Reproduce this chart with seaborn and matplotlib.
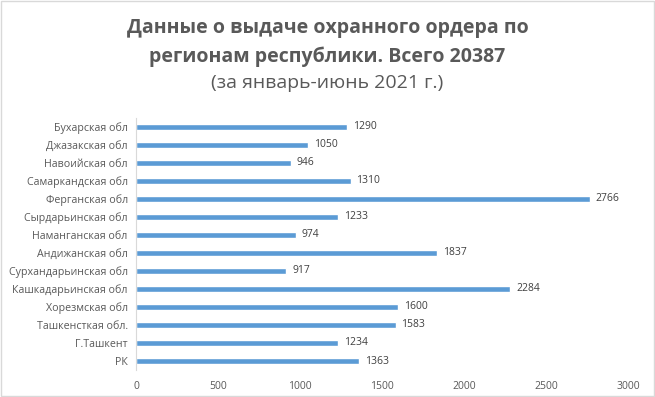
import matplotlib
matplotlib.use("Agg")
import matplotlib.pyplot as plt
import seaborn as sns
import pandas as pd

regions = [
    "Бухарская обл", "Джазакская обл", "Навоийская обл", "Самаркандская обл",
    "Ферганская обл", "Сырдарьинская обл", "Наманганская обл", "Андижанская обл",
    "Сурхандарьинская обл", "Кашкадарьинская обл", "Хорезмская обл",
    "Ташкенсткая обл.", "Г.Ташкент", "РК",
]
counts = [1290, 1050, 946, 1310, 2766, 1233, 974, 1837, 917, 2284, 1600, 1583, 1234, 1363]
xticks = [0, 500, 1000, 1500, 2000, 2500, 3000]

df = pd.DataFrame({"region": regions, "count": counts})

sns.set_style("white")
plt.rcParams["font.family"] = ["Open Sans", "DejaVu Sans"]
grey = "#595959"

fig = plt.figure(figsize=(6.55, 3.97), dpi=100)
ax = fig.add_axes([0.2076, 0.068, 0.751, 0.635])

sns.barplot(data=df, x="count", y="region", color="#5B9BD5", width=0.3,
            saturation=1, ax=ax)

# value labels to the right of each bar
for i, v in enumerate(counts):
    ax.text(v + 35, i, str(v), va="center", ha="left", fontsize=7.5, color="#404040")

ax.set_xlim(0, 3000)
ax.set_ylim(len(regions) - 0.5, -0.5)
ax.set_xticks(xticks)
ax.set_xticklabels([str(t) for t in xticks], fontsize=7.5, color=grey)
ax.tick_params(axis="y", labelsize=7.7, labelcolor=grey, length=0, pad=6)
ax.tick_params(axis="x", length=0, pad=8)
ax.set_xlabel("")
ax.set_ylabel("")
for s in ["top", "right", "bottom"]:
    ax.spines[s].set_visible(False)
ax.spines["left"].set_color("#D9D9D9")
ax.spines["left"].set_linewidth(0.8)

fig.text(0.5, 0.93, "Данные о выдаче охранного ордера по", ha="center", va="center",
         fontsize=14, fontweight="bold", color=grey)
fig.text(0.5, 0.857, "регионам республики. Всего 20387", ha="center", va="center",
         fontsize=14, fontweight="bold", color=grey)
fig.text(0.5, 0.79, "(за январь-июнь 2021 г.)", ha="center", va="center",
         fontsize=14, color=grey)

fig.patches.append(plt.Rectangle((0.002, 0.003), 0.996, 0.994, transform=fig.transFigure,
                                 fill=False, edgecolor="#D9D9D9", linewidth=1))

fig.savefig("out.png", dpi=100, facecolor="white")
